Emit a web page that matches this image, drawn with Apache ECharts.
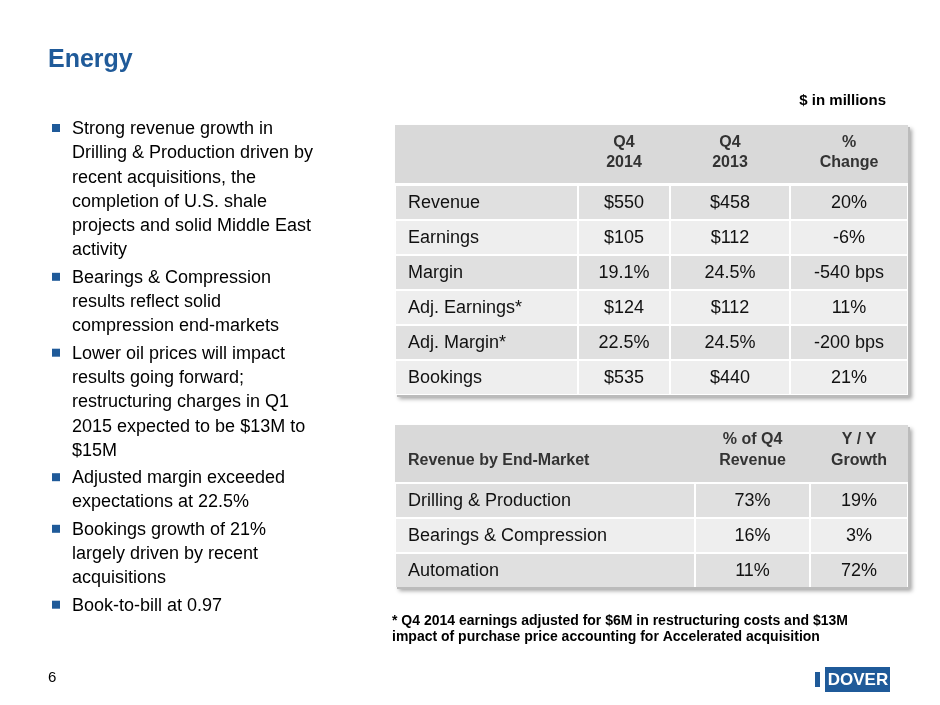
<!DOCTYPE html>
<html><head><meta charset="utf-8">
<script src="https://cdn.jsdelivr.net/npm/echarts@6/dist/echarts.min.js"></script>
<style>html,body{margin:0;padding:0;background:#fff}#c{width:940px;height:705px}</style>
</head><body><div id="c"></div>
<script>
const bullets = [
  ['Strong revenue growth in', 'Drilling & Production driven by', 'recent acquisitions, the', 'completion of U.S. shale', 'projects and solid Middle East', 'activity'],
  ['Bearings & Compression', 'results reflect solid', 'compression end-markets'],
  ['Lower oil prices will impact', 'results going forward;', 'restructuring charges in Q1', '2015 expected to be $13M to', '$15M'],
  ['Adjusted margin exceeded', 'expectations at 22.5%'],
  ['Bookings growth of 21%', 'largely driven by recent', 'acquisitions'],
  ['Book-to-bill at 0.97']
]
const t1Headers = [['', ''], ['Q4', '2014'], ['Q4', '2013'], ['%', 'Change']]
const t1Rows = [
  ['Revenue', '$550', '$458', '20%'],
  ['Earnings', '$105', '$112', '-6%'],
  ['Margin', '19.1%', '24.5%', '-540 bps'],
  ['Adj. Earnings*', '$124', '$112', '11%'],
  ['Adj. Margin*', '22.5%', '24.5%', '-200 bps'],
  ['Bookings', '$535', '$440', '21%']
]
const t2Headers = [['', 'Revenue by End-Market'], ['% of Q4', 'Revenue'], ['Y / Y', 'Growth']]
const t2Rows = [
  ['Drilling & Production', '73%', '19%'],
  ['Bearings & Compression', '16%', '3%'],
  ['Automation', '11%', '72%']
]
const footnote = ['* Q4 2014 earnings adjusted for $6M in restructuring costs and $13M', 'impact of purchase price accounting for Accelerated acquisition']

const F = 'Liberation Sans, Arial, sans-serif'
const g = []
const txt = (x, y, s, o) => g.push({ type: 'text', x, y, style: Object.assign({ text: s, font: '18px ' + F, fill: '#000', textVerticalAlign: 'middle' }, o || {}) })
const rect = (x, y, w, h, fill) => g.push({ type: 'rect', shape: { x, y, width: w, height: h }, style: { fill } })

txt(48, 60, 'Energy', { font: 'bold 25px ' + F, fill: '#1f5a99' })
let y = 129
bullets.forEach(b => {
  rect(52, y - 5, 8, 8, '#1f5a99')
  b.forEach(l => { txt(72, y, l); y += 24.3 })
  y += 3
})
txt(886, 101, '$ in millions', { font: 'bold 15px ' + F, textAlign: 'right' })

// table 1
const c1 = [395, 578, 670, 790, 908]
g.push({ type: 'rect', shape: { x: 397, y: 127, width: 513, height: 270 }, style: { fill: '#bbb', shadowBlur: 4, shadowColor: 'rgba(0,0,0,0.35)', shadowOffsetX: 2, shadowOffsetY: 2 }, z: -1 })
rect(395, 125, 513, 58, '#d9d9d9')
t1Headers.forEach((h, i) => {
  if (!i) return
  const cx = (c1[i] + c1[i + 1]) / 2
  txt(cx, 143, h[0], { font: 'bold 16px ' + F, fill: '#333', textAlign: 'center' })
  txt(cx, 163, h[1], { font: 'bold 16px ' + F, fill: '#333', textAlign: 'center' })
})
rect(395, 183, 513, 212, '#fff')
t1Rows.forEach((r, j) => {
  const ry = 186 + j * 35
  r.forEach((s, i) => {
    rect(c1[i] + 1, ry, c1[i + 1] - c1[i] - 2, 33, j % 2 ? '#eeeeee' : '#e0e0e0')
    if (i === 0) txt(408, ry + 17, s, { fill: '#111' })
    else txt((c1[i] + c1[i + 1]) / 2, ry + 17, s, { fill: '#111', textAlign: 'center' })
  })
})

// table 2
const c2 = [395, 695, 810, 908]
g.push({ type: 'rect', shape: { x: 397, y: 427, width: 513, height: 162 }, style: { fill: '#bbb', shadowBlur: 4, shadowColor: 'rgba(0,0,0,0.35)', shadowOffsetX: 2, shadowOffsetY: 2 }, z: -1 })
rect(395, 425, 513, 57, '#d9d9d9')
t2Headers.forEach((h, i) => {
  if (i === 0) { txt(408, 461, h[1], { font: 'bold 16px ' + F, fill: '#333' }); return }
  const cx = (c2[i] + c2[i + 1]) / 2
  txt(cx, 440, h[0], { font: 'bold 16px ' + F, fill: '#333', textAlign: 'center' })
  txt(cx, 461, h[1], { font: 'bold 16px ' + F, fill: '#333', textAlign: 'center' })
})
rect(395, 482, 513, 105, '#fff')
t2Rows.forEach((r, j) => {
  const ry = 484 + j * 35
  r.forEach((s, i) => {
    rect(c2[i] + 1, ry, c2[i + 1] - c2[i] - 2, 33, j % 2 ? '#eeeeee' : '#e0e0e0')
    if (i === 0) txt(408, ry + 17, s, { fill: '#111' })
    else txt((c2[i] + c2[i + 1]) / 2, ry + 17, s, { fill: '#111', textAlign: 'center' })
  })
})

footnote.forEach((l, i) => txt(392, 621 + i * 16, l, { font: 'bold 14px ' + F }))
txt(48, 678, '6', { font: '15px ' + F })
rect(815, 667, 75, 25, '#1f5a99')
rect(815, 667, 10, 25, '#fff')
rect(815, 672, 5, 15, '#1f5a99')
txt(858, 680, 'DOVER', { font: 'bold 17px ' + F, fill: '#fff', textAlign: 'center' })

const chart = echarts.init(document.getElementById('c'))
chart.setOption({ animation: false, graphic: g })
</script></body></html>
